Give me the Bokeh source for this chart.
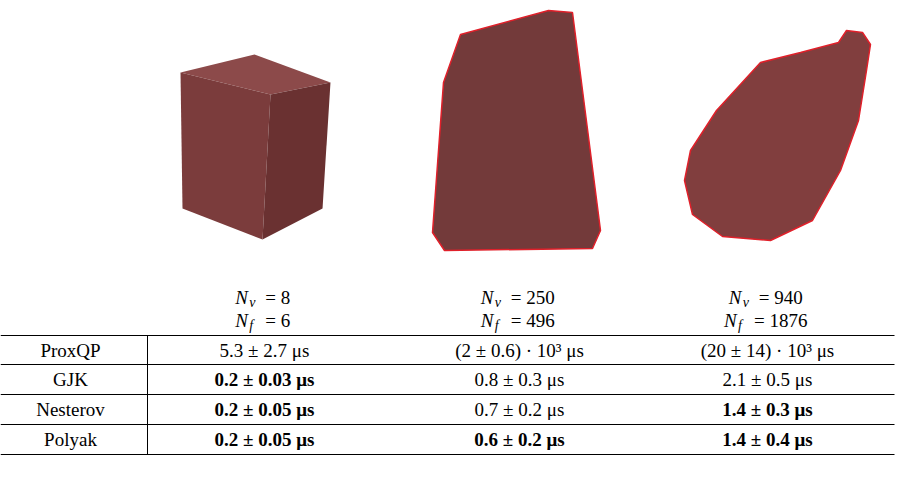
from bokeh.plotting import figure
from bokeh.models import Range1d
from bokeh.embed import file_html
from bokeh.resources import INLINE
from bokeh.core.properties import value

W, H = 898, 477
methods = ["ProxQP", "GJK", "Nesterov", "Polyak"]
nv = ["8", "250", "940"]
nf = ["6", "496", "1876"]
cells = [
    ["5.3 ± 2.7 μs", "(2 ± 0.6) · 10³ μs", "(20 ± 14) · 10³ μs"],
    ["0.2 ± 0.03 μs", "0.8 ± 0.3 μs", "2.1 ± 0.5 μs"],
    ["0.2 ± 0.05 μs", "0.7 ± 0.2 μs", "1.4 ± 0.3 μs"],
    ["0.2 ± 0.05 μs", "0.6 ± 0.2 μs", "1.4 ± 0.4 μs"],
]
bold = [[0, 0, 0], [1, 0, 0], [1, 0, 1], [1, 1, 1]]

p = figure(width=W, height=H, output_backend="svg", toolbar_location=None,
           x_range=Range1d(0, W), y_range=Range1d(H, 0), min_border=0)
p.axis.visible = False
p.grid.visible = False
p.outline_line_color = None

F = value("'Liberation Serif', 'Times New Roman', serif")
colx = [264, 519, 767]
labx = 70

# shapes (illustrations)
p.patch([180, 254, 330, 270], [72, 54, 82, 94], fill_color="#8c4a4a", line_color=None)
p.patch([180, 270, 262, 182], [72, 94, 239, 208], fill_color="#7b3c3c", line_color=None)
p.patch([270, 330, 322, 262], [94, 82, 208, 239], fill_color="#6a3131", line_color=None)
p.patch([443, 460, 548, 572, 600, 592, 444, 432], [82, 34, 10, 12, 230, 248, 250, 232],
        fill_color="#6b2f2f", line_color="#e0202a", line_width=1.5, fill_alpha=0.95)
p.patch([760, 800, 838, 846, 862, 870, 866, 858, 840, 812, 770, 722, 692, 684, 690, 716],
        [62, 52, 42, 30, 32, 44, 70, 120, 170, 220, 240, 236, 214, 180, 150, 110],
        fill_color="#7a3434", line_color="#e0202a", line_width=1.5, fill_alpha=0.95)

# headers
for cx, a, b in zip(colx, nv, nf):
    for yy, sub, val in ((297, "v", a), (320, "f", b)):
        rest = "= " + val
        w = 30 + len(rest) * 9.5
        x0 = cx - w / 2
        p.text([x0], [yy], text=["N"], text_font=F, text_font_style="italic",
               text_font_size="19px", text_baseline="middle")
        p.text([x0 + 14], [yy + 5], text=[sub], text_font=F, text_font_style="italic",
               text_font_size="14px", text_baseline="middle")
        p.text([x0 + 30], [yy], text=[rest], text_font=F,
               text_font_size="19px", text_baseline="middle")

rowy = [350, 379, 409, 439]
for i, m in enumerate(methods):
    p.text([labx], [rowy[i]], text=[m], text_font=F, text_font_size="19px",
           text_align="center", text_baseline="middle")
    for j in range(3):
        p.text([colx[j]], [rowy[i]], text=[cells[i][j]], text_font=F,
               text_font_size="19px", text_align="center", text_baseline="middle",
               text_font_style="bold" if bold[i][j] else "normal")

lines_y = [335, 364, 394, 424, 454]
p.multi_line([[0, W - 4]] * len(lines_y), [[y, y] for y in lines_y], line_color="black", line_width=1)
p.line([147, 147], [335, 454], line_color="black", line_width=1)

open("out.html", "w").write(file_html(p, INLINE))
